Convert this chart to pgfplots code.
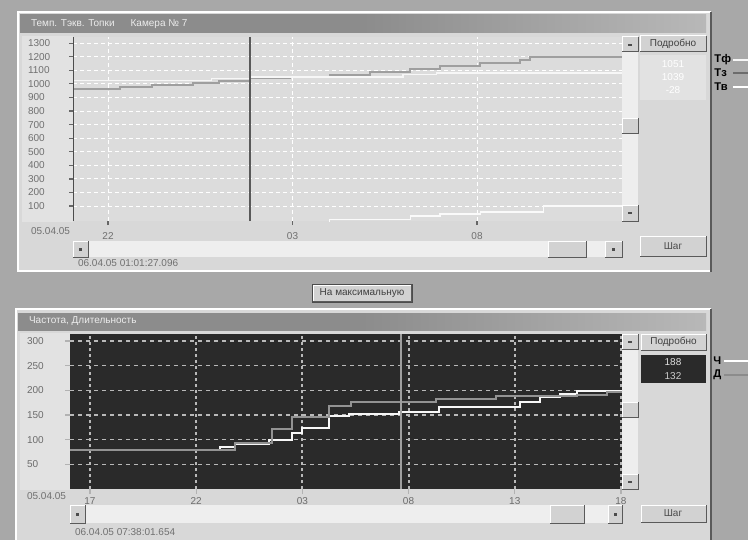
\documentclass[border=0pt]{standalone}
\usepackage{pgfplots}
\pgfplotsset{compat=1.18}
\usepackage{fontspec}
\setmainfont{Liberation Sans}
\definecolor{bg}{HTML}{A8A8A8}
\definecolor{panel}{HTML}{D8D8D8}
\definecolor{plotlt}{HTML}{DCDCDC}
\definecolor{plotdk}{HTML}{2A2A2A}
\definecolor{titlebar}{HTML}{8C8C8C}
\definecolor{titlebar2}{HTML}{B8B8B8}
\definecolor{txt}{HTML}{707070}
\definecolor{btn}{HTML}{D2D2D2}
\definecolor{lblp}{HTML}{E2E2E2}
\definecolor{sbar}{HTML}{EEEEEE}
\definecolor{dkedge}{HTML}{5A5A5A}
\newcommand{\uifont}{\fontsize{5}{6}\selectfont}
\newcommand{\lgfont}{\fontsize{5.6}{6}\selectfont\bfseries}
\newcommand{\btn}[4]{%
  \fill[btn] (#1,#2) rectangle (#3,#4);
  \draw[white, line width=0.5pt] (#1,#4)--(#1,#2)--(#3,#2);
  \draw[dkedge, line width=0.5pt] (#1,#4)--(#3,#4)--(#3,#2);}
\begin{document}
\begin{tikzpicture}
\begin{scope}[x=0.5pt,y=-0.5pt,font=\uifont]
\useasboundingbox (0,0) rectangle (748,540);
\fill[bg] (0,0) rectangle (748,540);
% ---------- top panel ----------
\fill[panel] (18,12) rectangle (711,272);
\draw[white, line width=0.8pt] (18,272)--(18,12)--(711,12);
\draw[white, line width=0.8pt] (18,271)--(711,271);
\draw[dkedge, line width=0.8pt] (711,12)--(711,272);
\shade[left color=titlebar, right color=titlebar2, middle color=titlebar] (20,15) rectangle (706,33);
\node[anchor=west, text=white!85!gray] at (24,24) {Темп. Тэкв. Топки\hspace{8pt}Камера № 7};
\fill[lblp] (22,36) rectangle (73,222);
\fill[sbar] (622,37) rectangle (638,221);
\btn{622}{37}{638}{52}
\btn{622}{118}{638}{133}
\btn{622}{205}{638}{221}
\fill[black!70] (628,44) rectangle (632,46);
\fill[black!70] (628,212) rectangle (632,214);
\btn{640}{36}{706}{52}
\node[text=black!75] at (673,44) {Подробно};
\fill[lblp] (640,55) rectangle (706,100);
\node[text=white] at (673,64) {1051};
\node[text=white] at (673,77) {1039};
\node[text=white] at (673,90) {-28};
\node[anchor=west, text=txt] at (24,231) {05.04.05};
\fill[sbar] (73,241) rectangle (622,257);
\btn{73}{241}{88}{257}
\btn{548}{241}{586}{257}
\btn{605}{241}{622}{257}
\fill[black!70] (79,248) rectangle (82,251);
\fill[black!70] (612,248) rectangle (615,251);
\btn{640}{236}{706}{256}
\node[text=black!70] at (673,246) {Шаг};
\node[anchor=west, text=txt] at (71,263) {06.04.05 01:01:27.096};
\node[anchor=west, inner sep=0pt, text=black, font=\lgfont] at (714,60) {Тф};
\node[anchor=west, inner sep=0pt, text=black, font=\lgfont] at (714,73) {Тз};
\node[anchor=west, inner sep=0pt, text=black, font=\lgfont] at (714,87) {Тв};
\draw[white!92!gray, line width=1pt] (733,60)--(748,60);
\draw[gray!85!black, line width=1pt] (733,73)--(748,73);
\draw[white, line width=1pt] (733,87)--(748,87);
% ---------- middle button ----------
\fill[black!70] (312,284) rectangle (413,303);
\btn{313}{285}{411}{301}
\node[text=black!75] at (362,293) {На максимальную};
% ---------- bottom panel ----------
\fill[panel] (16,309) rectangle (711,540);
\draw[white, line width=0.8pt] (16,540)--(16,309)--(711,309);
\draw[dkedge, line width=0.8pt] (711,309)--(711,540);
\shade[left color=titlebar, right color=titlebar2, middle color=titlebar] (18,313) rectangle (706,330);
\node[anchor=west, text=white!85!gray] at (22,321.5) {Частота, Длительность};
\fill[lblp] (20,333) rectangle (70,490);
\fill[sbar] (622,334) rectangle (638,489);
\btn{622}{334}{638}{349}
\btn{622}{402}{638}{417}
\btn{622}{474}{638}{489}
\fill[black!70] (628,341) rectangle (632,343);
\fill[black!70] (628,481) rectangle (632,483);
\btn{641}{334}{706}{350}
\node[text=black!75] at (673.5,342) {Подробно};
\fill[plotdk] (641,355) rectangle (706,383);
\node[text=white!75!gray] at (673,362) {188};
\node[text=white!60!gray] at (673,376) {132};
\node[anchor=west, inner sep=0pt, text=black, font=\lgfont] at (713,361) {Ч};
\node[anchor=west, inner sep=0pt, text=black, font=\lgfont] at (713,375) {Д};
\draw[white, line width=1.2pt] (724,361)--(748,361);
\draw[gray!90, line width=1.2pt] (724,375)--(748,375);
\node[anchor=west, text=txt] at (20,496) {05.04.05};
\fill[sbar] (70,505) rectangle (622,523);
\btn{70}{505}{85}{523}
\btn{550}{505}{584}{523}
\btn{608}{505}{622}{523}
\fill[black!70] (76,513) rectangle (79,516);
\fill[black!70] (614,513) rectangle (617,516);
\btn{641}{505}{706}{522}
\node[text=black!70] at (673,513.5) {Шаг};
\node[anchor=west, text=txt] at (68,532) {06.04.05 07:38:01.654};
\end{scope}
% ---------- top chart ----------
\begin{axis}[
  at={(36.5pt,-110.5pt)}, anchor=south west,
  scale only axis, width=274.5pt, height=92pt,
  xmin=21.05, xmax=35.93, ymin=-10, ymax=1345,
  axis background/.style={fill=plotlt},
  axis line style={draw=none},
  xtick={22,27,32}, xticklabels={22,03,08},
  ytick={100,200,...,1300},
  xtick pos=bottom, ytick pos=left,
  tick align=outside, major tick length=2pt,
  tick style={draw=gray!80!black, line width=0.6pt},
  grid=major,
  major grid style={white, dash pattern=on 2pt off 1.5pt, line width=0.5pt},
  ticklabel style={font=\uifont, text=txt},
  /pgf/number format/assume math mode=true,
  /pgf/number format/set thousands separator={},
  yticklabel style={anchor=west, xshift=-24pt},
]
\addplot[const plot, white!96!gray, line width=0.8pt] coordinates {(21.05,-28) (28.0,2) (30.2,26) (31.0,41) (32.1,56) (33.8,100) (35.93,100)};
\addplot[const plot, gray!75, line width=0.8pt] coordinates {(21.05,963) (22.33,975) (23.19,990) (24.3,1005) (25.0,1020) (25.85,1040) (26.93,1050) (28.02,1066) (29.10,1088) (30.18,1110) (31.00,1132) (32.08,1154) (33.17,1176) (33.44,1198) (35.93,1198)};
\addplot[const plot, white!94!gray, line width=0.8pt] coordinates {(21.05,1026) (24.8,1040) (25.85,1052) (30.0,1070) (30.9,1081) (35.93,1081)};
\addplot[gray!70!black, line width=1pt] coordinates {(25.85,-10) (25.85,1345)};
\draw[gray!60!black, line width=1pt] (rel axis cs:0,0) -- (rel axis cs:0,1);
\end{axis}
% ---------- bottom chart ----------
\begin{axis}[
  at={(35pt,-244.5pt)}, anchor=south west,
  scale only axis, width=276pt, height=77.5pt,
  xmin=16.06, xmax=42.05, ymin=0, ymax=314,
  axis background/.style={fill=plotdk},
  axis line style={draw=none},
  xtick={17,22,27,32,37,42}, xticklabels={17,22,03,08,13,18},
  ytick={50,100,...,300},
  xtick pos=bottom, ytick pos=left,
  tick align=outside, major tick length=2.5pt,
  tick style={draw=gray!60, line width=0.6pt},
  grid=major,
  major grid style={gray!55, dash pattern=on 2pt off 2pt, line width=0.6pt},
  every axis x grid/.append style={line width=1pt, dash pattern=on 1.5pt off 1.5pt},
  ticklabel style={font=\uifont, text=gray!85!black},
  xticklabel style={yshift=1.8pt},
  /pgf/number format/assume math mode=true,
  yticklabel style={anchor=west, xshift=-22.5pt},
]
\addplot[const plot, white!94!gray, line width=1pt] coordinates {(16.06,79) (23.10,86) (23.81,92) (25.45,100) (26.53,113) (27.00,124) (28.27,148) (29.21,152) (31.55,156) (33.43,167) (37.27,177) (38.20,187) (39.15,193) (39.93,199) (42.05,199)};
\addplot[const plot, gray!85, line width=1pt] coordinates {(16.06,79) (23.10,79) (23.81,94) (25.59,122) (26.53,146) (28.27,169) (29.30,176) (33.29,183) (36.11,189) (39.93,191) (41.33,197) (42.05,197)};
\addplot[gray!75, line width=1pt] coordinates {(31.65,0) (31.65,314)};
\end{axis}
\end{tikzpicture}
\end{document}
